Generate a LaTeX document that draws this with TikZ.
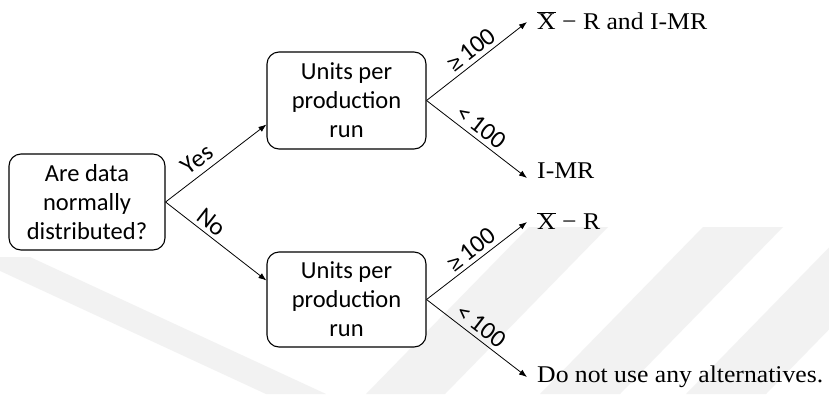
\documentclass[tikz,border=0pt]{standalone}
\usepackage{fontspec}
\setmainfont{Carlito}
\newfontfamily\outfont[FakeStretch=1.07]{Liberation Serif}
\newfontfamily\symfont{Liberation Sans}
\usetikzlibrary{arrows.meta}
\definecolor{wm}{gray}{0.95}
\tikzset{
  qbox/.style={draw, line width=1.1pt, rounded corners=12pt, align=center,
    font=\fontsize{24.5}{29}\selectfont, inner sep=0pt},
  conn/.style={line width=0.8pt, -{Latex[length=8pt,width=6pt]}},
  elab/.style={font=\fontsize{25}{27}\selectfont, sloped, above, inner sep=4pt},
  outc/.style={anchor=west, font=\outfont\fontsize{24}{28}\selectfont, inner sep=0pt},
  band/.style={fill=wm, draw=none},
}
\newcommand{\mygeq}{{\symfont\fontsize{22}{24}\selectfont ≥}}
\begin{document}
\begin{tikzpicture}[x=1pt,y=-1pt]
\useasboundingbox (0,0) rectangle (829,394);
\fill[white] (0,0) rectangle (829,394);
% faint watermark bands
\begin{scope}
\clip (0,0) rectangle (829,394);
\fill[band] (-30,257) -- (30,257) -- (326,394) -- (266,394) -- cycle;
\fill[band] (529,227) -- (608,227) -- (445,394) -- (366,394) -- cycle;
\fill[band] (703,227) -- (783,227) -- (620,394) -- (540,394) -- cycle;
\fill[band] (849,227) -- (929,227) -- (766,394) -- (686,394) -- cycle;
\end{scope}
% nodes
\node[qbox, fill=white, minimum width=156pt, minimum height=96pt] (q) at (87,202) {Are data\\normally\\distributed?};
\node[qbox, fill=white, minimum width=159pt, minimum height=97pt] (u1) at (346.5,100.5) {Units per\\production\\run};
\node[qbox, fill=white, minimum width=159pt, minimum height=95pt] (u2) at (346.5,299.5) {Units per\\production\\run};
% targets
\coordinate (t1) at (527,22);
\coordinate (t2) at (527,178);
\coordinate (t3) at (527,222);
\coordinate (t4) at (527,377);
\node[outc] (o1) at (537,21) {$\overline{\hbox{X}}$ − R and I-MR};
\node[outc] (o2) at (537,171) {I-MR};
\node[outc] (o3) at (537,221) {$\overline{\hbox{X}}$ − R};
\node[outc] (o4) at (537,377) {Do not use any alternatives.};
% connectors
\draw[conn] (q.east) -- node[elab, pos=0.40, inner sep=6pt] {Yes} ([yshift=-24pt]u1.west);
\draw[conn] (q.east) -- node[elab, pos=0.38] {No} ([yshift=19pt]u2.west);
\draw[conn] (u1.east) -- node[elab, pos=0.52] {\mygeq\,100} (t1);
\draw[conn] (u1.east) -- node[elab, pos=0.47] {<\,100} (t2);
\draw[conn] (u2.east) -- node[elab, pos=0.52] {\mygeq\,100} (t3);
\draw[conn] (u2.east) -- node[elab, pos=0.47] {<\,100} (t4);
\end{tikzpicture}
\end{document}
